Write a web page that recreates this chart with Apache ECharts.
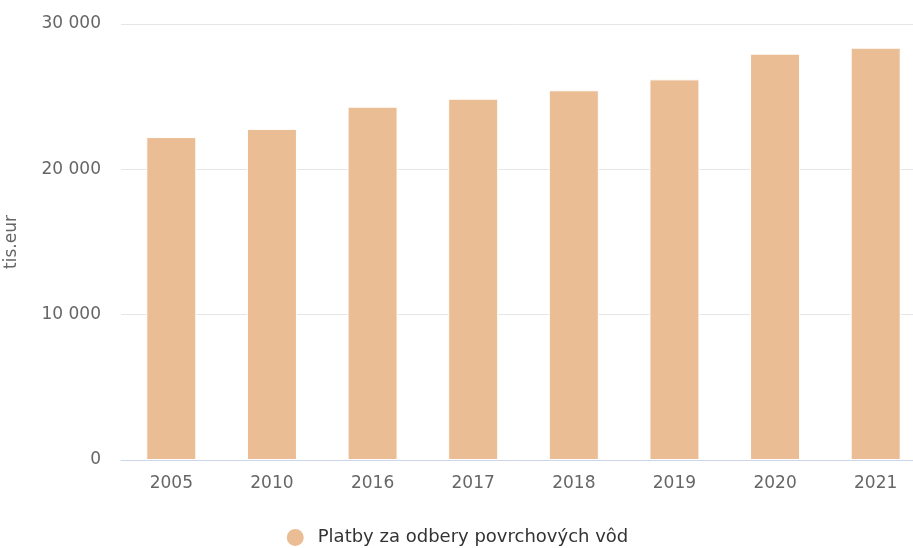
<!DOCTYPE html>
<html lang="sk">
<head>
	<meta charset="UTF-8">
	<title>Platby za odbery povrchových vôd</title>
	<script src="https://cdn.jsdelivr.net/npm/echarts@6/dist/echarts.min.js"></script>
	<style>
		html, body { margin: 0; padding: 0; background: #fff; }
		#chart { width: 913px; height: 548px; }
	</style>
</head>
<body>
	<div id="chart"></div>
	<script>
		// údaje odčítané z grafu
		var years = ['2005', '2010', '2016', '2017', '2018', '2019', '2020', '2021'];
		var payments = [22220, 22780, 24310, 24860, 25440, 26190, 27960, 28370];
		var yTicks = [0, 10000, 20000, 30000];
		var seriesName = 'Platby za odbery povrchových vôd';
		var unitName = 'tis.eur';

		var font = 'DejaVu Sans, Verdana, sans-serif';
		var myChart = echarts.init(document.getElementById('chart'));
		myChart.setOption({
			animation: false,
			legend: {
				bottom: -5,
				left: 'center',
				icon: 'circle',
				itemWidth: 19,
				itemHeight: 19,
				itemGap: 10,
				textStyle: { color: '#333', fontSize: 18, fontFamily: font, padding: [0, 0, 0, 8] },
				data: [seriesName]
			},
			grid: {
				left: 121,
				right: -13,
				top: 24,
				bottom: 88,
				containLabel: false,
				outerBoundsMode: 'none'
			},
			xAxis: {
				type: 'category',
				data: years,
				axisLine: { lineStyle: { color: '#ccd6eb' } },
				axisTick: { show: false },
				axisLabel: { color: '#666', fontSize: 17, fontFamily: font, margin: 15 }
			},
			yAxis: {
				type: 'value',
				min: yTicks[0],
				max: yTicks[yTicks.length - 1],
				interval: 10000,
				name: unitName,
				nameLocation: 'middle',
				nameGap: 101,
				nameTextStyle: { color: '#666', fontSize: 17, fontFamily: font },
				axisLine: { show: false },
				axisTick: { show: false },
				splitLine: { lineStyle: { color: '#e6e6e6', width: 1 } },
				axisLabel: {
					color: '#666', fontSize: 17, fontFamily: font, margin: 20,
					formatter: function (v) {
						return String(v).replace(/\B(?=(\d{3})+(?!\d))/g, ' ');
					}
				}
			},
			series: [{
				name: seriesName,
				type: 'bar',
				data: payments,
				barWidth: 50,
				itemStyle: { color: '#ebbd94', borderColor: '#fff', borderWidth: 1 }
			}]
		});
	</script>
</body>
</html>
